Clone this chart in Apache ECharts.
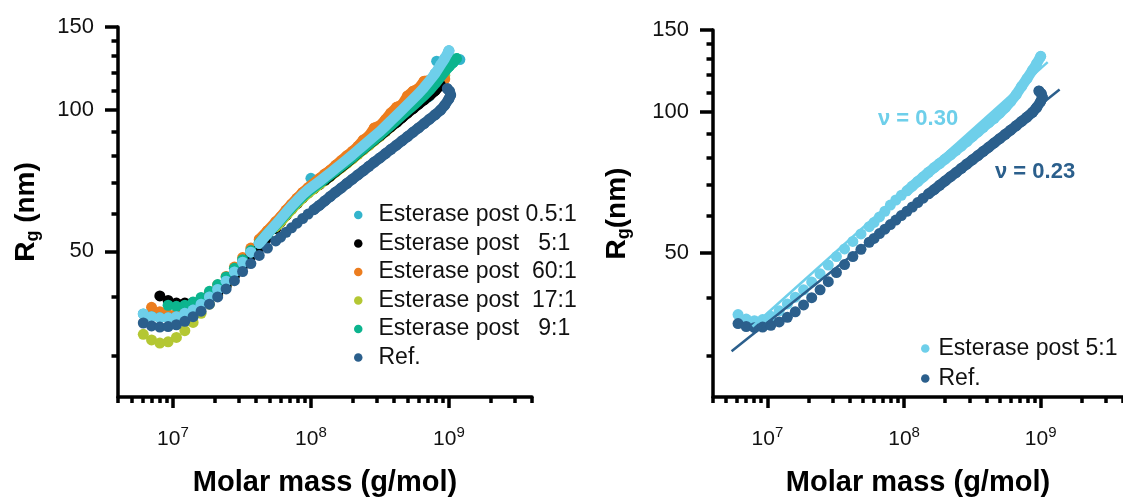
<!DOCTYPE html>
<html>
<head>
<meta charset="utf-8">
<script src="https://cdn.jsdelivr.net/npm/echarts@6/dist/echarts.min.js"></script>
<style>
html, body { margin: 0; padding: 0; background: #fff; }
#chart { width: 1123px; height: 502px; }
</style>
</head>
<body>
<div id="chart"></div>
<script>
// molar mass (g/mol) at which the curves are read
const massGrid = [6.1e6, 7.0e6, 8.04e6, 9.23e6, 1.06e7, 1.22e7, 1.40e7, 1.60e7, 1.84e7, 2.11e7,
    2.43e7, 2.79e7, 3.20e7, 3.67e7, 4.22e7, 4.84e7, 5.56e7, 6.03e7, 6.61e7, 7.24e7,
    7.94e7, 8.71e7, 9.55e7, 1.05e8, 1.15e8, 1.26e8, 1.38e8, 1.51e8, 1.66e8, 1.82e8,
    2.0e8, 2.19e8, 2.4e8, 2.63e8, 2.88e8, 3.16e8, 3.47e8, 3.8e8, 4.17e8, 4.57e8,
    5.01e8, 5.5e8, 6.03e8, 6.61e8, 7.24e8, 7.94e8, 8.71e8, 9.33e8, 1.0e9]

// Rg (nm) per curve, same order as massGrid (null = no point)
const refRg = [35.2, 34.7, 34.5, 34.6, 34.9, 35.5, 36.3, 37.3, 38.6, 40.0,
    41.6, 43.3, 45.3, 47.1, 49.0, 50.8, 52.6, 53.6, 54.9, 56.1,
    57.4, 58.7, 60.0, 61.3, 62.6, 64.0, 65.4, 66.8, 68.2, 69.7,
    71.2, 72.7, 74.2, 75.8, 77.4, 79.0, 80.7, 82.4, 84.1, 85.9,
    87.7, 89.6, 91.5, 93.5, 95.5, 97.6, 99.9, 102.3, 105.5]
const refTail = [[1.03e9, 107.5], [1.01e9, 109.5], [9.7e8, 111.0]]

const leftTopRg = [36.8, 36.3, 36.1, 36.1, 36.3, 36.9, 37.5, 38.6, 40.0, 41.5,
    43.2, 45.2, 47.4, 49.8, 52.0, 54.5, 57.0, 58.6, 60.5, 62.4,
    64.2, 66.0, 67.6, 69.0, 70.4, 71.9, 73.4, 75.0, 76.7, 78.4,
    80.2, 82.1, 84.0, 85.9, 87.9, 89.9, 92.3, 94.8, 97.3, 99.9,
    102.6, 105.4, 108.3, 111.6, 115.3, 119.3, 124.5, 128.5, 133.5]
const post05Extra = [[1.0e8, 71.5], [7.1e8, 106.5], [8.15e8, 126.9], [1.2e9, 127.9]]

const post5LeftRg = [null, null, 40.2, 39.3, 38.8, 38.8, 38.9, 39.3, 39.9, 40.6,
    42.2, 44.3, 46.5, 48.8, 51.0, 53.4, 55.9, 57.7, 59.6, 61.5,
    63.2, 65.0, 66.6, 68.0, 69.3, 70.8, 72.3, 73.9, 75.5, 77.2,
    79.0, 80.8, 82.6, 84.4, 86.2, 88.0, 90.0, 92.0, 94.0, 96.2,
    98.4, 100.6, 102.8, 105.0, 107.2, 109.8, 113.0, null, null]

const post60Rg = [null, 38.0, 37.2, 36.7, 36.8, 37.3, 38.2, 39.4, 40.8, 42.4,
    44.2, 46.3, 48.5, 50.8, 53.0, 55.3, 57.8, 59.2, 61.2, 63.0,
    64.9, 66.7, 68.3, 69.9, 71.4, 73.0, 74.4, 76.2, 78.0, 79.8,
    81.6, 83.6, 86.3, 88.0, 91.5, 92.5, 95.3, 98.5, 101.2, 102.5,
    107.0, 109.5, 111.0, 115.0, 115.5, 116.0, 116.5, 116.3, null]

const post17Rg = [33.3, 32.4, 31.9, 32.1, 32.8, 33.9, 35.3, 36.9, 38.6, 40.3,
    42.3, 44.5, 46.8, 49.2, 51.5, 53.9, 56.3, 57.7, 59.6, 61.4,
    63.2, 64.9, 66.5, 67.9, 69.3, 70.7, 72.2, 73.7, 75.3, 76.9,
    78.6, 80.4, 82.2, 84.0, 85.9, 87.8, 89.9, 92.0, 94.2, 96.5,
    98.8, 101.2, 103.7, 106.3, 109.0, 112.0, 115.5, 118.5, null]

const post9Rg = [null, null, null, 38.4, 38.2, 38.4, 39.0, 39.9, 41.1, 42.5,
    44.1, 46.0, 48.0, 50.2, 52.2, 54.5, 56.8, 58.3, 60.1, 61.9,
    63.7, 65.4, 67.0, 68.4, 69.8, 71.2, 72.7, 74.2, 75.8, 77.4,
    79.1, 80.9, 82.7, 84.5, 86.4, 88.3, 90.5, 92.7, 95.0, 97.3,
    99.6, 102.0, 104.5, 107.2, 110.0, 113.5, 117.5, 120.5, 123.5]
const post9Tail = [[1.07e9, 126.0], [1.14e9, 128.5]]

const post5RightRg = [36.8, 36.0, 35.7, 35.9, 36.5, 37.5, 38.8, 40.1, 41.6, 43.2,
    45.0, 47.0, 49.0, 50.9, 52.8, 54.8, 56.8, 58.0, 59.6, 61.3,
    63.2, 64.8, 66.3, 67.8, 69.4, 71.0, 72.6, 74.3, 76.0, 77.6,
    79.3, 81.0, 82.8, 84.6, 86.5, 88.6, 90.7, 92.8, 94.9, 97.0,
    99.5, 102.2, 105.4, 109.0, 113.5, 118.0, 123.0, 127.0, 131.7]

// power-law fits (end points)
const fit030 = [[7.78e6, 34.7], [1.125e9, 128]]
const fit023 = [[5.47e6, 30.7], [1.375e9, 111.8]]

// ticks
const xMajor = [1e7, 1e8, 1e9]
const xMinor = [4e6, 5e6, 6e6, 7e6, 8e6, 9e6, 2e7, 3e7, 4e7, 5e7, 6e7, 7e7, 8e7, 9e7,
    2e8, 3e8, 4e8, 5e8, 6e8, 7e8, 8e8, 9e8, 2e9, 3e9, 4e9]
const yMajor = [50, 100, 150]
const yMinor = [30, 40, 60, 70, 80, 90, 110, 120, 130, 140]

const leftNames = ['Esterase post 0.5:1', 'Esterase post   5:1', 'Esterase post  60:1',
    'Esterase post  17:1', 'Esterase post   9:1', 'Ref.']
const rightNames = ['Esterase post 5:1', 'Ref.']

const colors = {
    cyan: '#33b4cc', black: '#000000', orange: '#ec7d1f', lime: '#b4c733',
    teal: '#0cb48e', light: '#6ecfea', dark: '#2b5f8c'
}
const font = '"Liberation Sans", Arial, sans-serif'

const pairs = (ys, from = 0) => massGrid.map((m, i) => [m, ys[i]])
    .filter(p => p[1] != null && p[0] >= from)

const xAxes = (gridIndex) => [
    {
        type: 'log', logBase: 10, gridIndex, min: 4e6, max: 4e9, position: 'bottom',
        axisLine: { lineStyle: { color: '#000', width: 3.5 } },
        axisTick: { customValues: xMajor, length: 11, lineStyle: { color: '#000', width: 3.5 } },
        axisLabel: {
            customValues: xMajor, margin: 28, color: '#111', fontFamily: font, fontSize: 21,
            formatter: v => '10{sup|' + Math.round(Math.log10(v)) + '}',
            rich: { sup: { fontSize: 15, fontFamily: font, color: '#111', padding: [0, 0, 13, 0] } }
        },
        splitLine: { show: false },
        name: 'Molar mass (g/mol)', nameLocation: 'middle', nameGap: 71,
        nameTextStyle: { fontFamily: font, fontWeight: 'bold', fontSize: 29, color: '#000' }
    },
    {
        type: 'log', logBase: 10, gridIndex, min: 4e6, max: 4e9, position: 'bottom',
        axisLine: { show: false },
        axisTick: { customValues: xMinor, length: 6, lineStyle: { color: '#000', width: 3.5 } },
        axisLabel: { show: false },
        splitLine: { show: false }
    }
]

const yAxes = (gridIndex, name, gap) => [
    {
        type: 'log', logBase: 10, gridIndex, min: 24.5, max: 150, position: 'left',
        axisLine: { lineStyle: { color: '#000', width: 3.5 } },
        axisTick: { customValues: yMajor, length: 13, lineStyle: { color: '#000', width: 3.5 } },
        axisLabel: { customValues: yMajor, margin: 24, color: '#111', fontFamily: font, fontSize: 22 },
        splitLine: { show: false },
        name, nameLocation: 'middle', nameGap: gap, nameRotate: 90,
        nameTextStyle: {
            fontFamily: font, fontWeight: 'bold', fontSize: 28, color: '#000',
            rich: {
                r: { fontFamily: font, fontWeight: 'bold', fontSize: 28, color: '#000' },
                s: { fontFamily: font, fontWeight: 'bold', fontSize: 18, color: '#000', padding: [14, 0, 0, 0] }
            }
        }
    },
    {
        type: 'log', logBase: 10, gridIndex, min: 24.5, max: 150, position: 'left',
        axisLine: { show: false },
        axisTick: { customValues: yMinor, length: 6.5, lineStyle: { color: '#000', width: 3.5 } },
        axisLabel: { show: false },
        splitLine: { show: false }
    }
]

// dense parts of each scatter merge into a solid band in the original
const band = (data, color, axis) => ({
    type: 'line', xAxisIndex: axis, yAxisIndex: axis, data, symbol: 'none', silent: true,
    lineStyle: { color, width: 10.5, cap: 'round', join: 'round' }
})
const dots = (name, data, color, axis) => ({
    name, type: 'scatter', xAxisIndex: axis, yAxisIndex: axis, data,
    symbolSize: 11, itemStyle: { color, opacity: 1 }, silent: true
})
const fitLine = (data, color, width) => ({
    type: 'line', xAxisIndex: 2, yAxisIndex: 2, data, symbol: 'none', silent: true,
    lineStyle: { color, width }
})

const legendBase = {
    orient: 'vertical', icon: 'circle', itemWidth: 8.5, itemHeight: 8.5,
    padding: 0, selectedMode: false
}

const option = {
    animation: false,
    backgroundColor: '#fff',
    grid: [
        { left: 118, top: 27, width: 414, height: 375 },
        { left: 713, top: 30, width: 412.5, height: 373 }
    ],
    xAxis: [...xAxes(0), ...xAxes(1)],
    yAxis: [...yAxes(0, '{r|R}{s|g}{r| (nm)}', 76), ...yAxes(1, '{r|R}{s|g}{r|(nm)}', 80)],
    legend: [
        {
            ...legendBase, data: leftNames, left: 354, top: 203.5, itemGap: 5.5,
            textStyle: { fontFamily: font, fontSize: 23, color: '#111', padding: [0, 0, 0, 11] }
        },
        {
            ...legendBase, data: rightNames, left: 921, top: 337, itemGap: 7,
            textStyle: { fontFamily: font, fontSize: 23, color: '#111', padding: [0, 0, 0, 4] }
        }
    ],
    graphic: [
        { type: 'text', left: 878, top: 108, style: { text: 'ν = 0.30', fill: colors.light, font: 'bold 22px ' + font } },
        { type: 'text', left: 995, top: 161, style: { text: 'ν = 0.23', fill: colors.dark, font: 'bold 22px ' + font } }
    ],
    series: [
        // left panel
        band(pairs(post17Rg, 5.5e7), colors.lime, 0),
        dots(leftNames[3], pairs(post17Rg), colors.lime, 0),
        band(pairs(post60Rg, 4.2e7), colors.orange, 0),
        dots(leftNames[2], pairs(post60Rg), colors.orange, 0),
        band(pairs(post5LeftRg, 1.2e8), colors.black, 0),
        dots(leftNames[1], pairs(post5LeftRg), colors.black, 0),
        band(pairs(post9Rg, 4.2e7).concat(post9Tail), colors.teal, 0),
        dots(leftNames[4], pairs(post9Rg).concat(post9Tail), colors.teal, 0),
        dots(leftNames[0], pairs(leftTopRg).concat(post05Extra), colors.cyan, 0),
        band(pairs(leftTopRg, 4.2e7), colors.light, 0),
        dots('light overlay', pairs(leftTopRg), colors.light, 0),
        band(pairs(refRg, 1.0e8).concat(refTail), colors.dark, 0),
        dots('Ref.', pairs(refRg).concat(refTail), colors.dark, 0),
        // right panel
        fitLine(fit030, colors.light, 2.5),
        fitLine(fit023, colors.dark, 2.5),
        band(pairs(post5RightRg, 1.0e8), colors.light, 2),
        dots(rightNames[0], pairs(post5RightRg), colors.light, 2),
        band(pairs(refRg, 1.4e8).concat(refTail), colors.dark, 2),
        dots('Ref.', pairs(refRg).concat(refTail), colors.dark, 2)
    ]
}

const chart = echarts.init(document.getElementById('chart'))
chart.setOption(option)
</script>
</body>
</html>
